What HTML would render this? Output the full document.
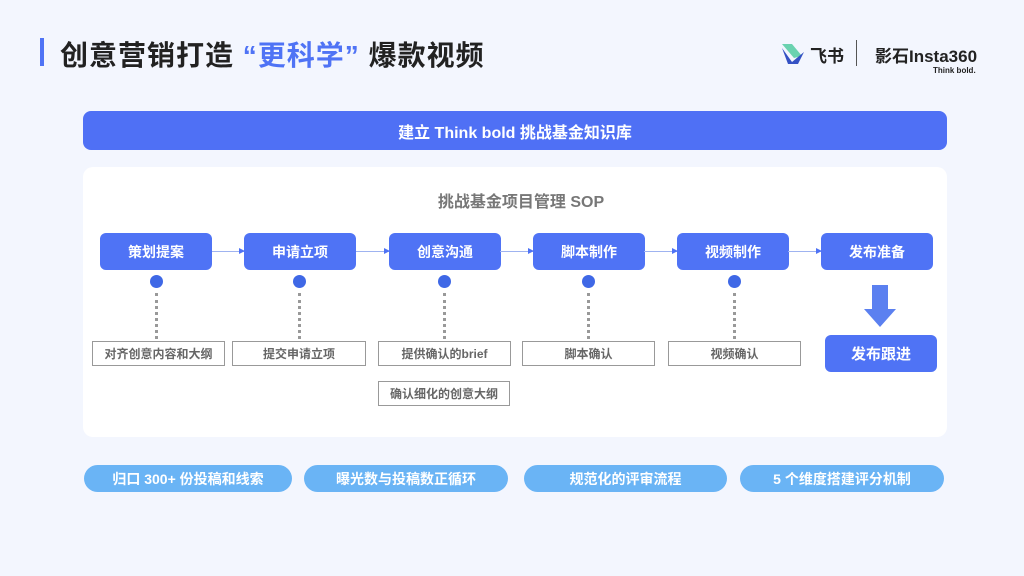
<!DOCTYPE html>
<html><head><meta charset="utf-8"><style>
*{margin:0;padding:0;box-sizing:border-box}
body{width:1024px;height:576px;background:#f3f6fe;position:relative;overflow:hidden;font-family:"Liberation Sans","Noto Sans CJK SC",sans-serif}
.a{position:absolute}
.step{position:absolute;top:233px;width:112px;height:37px;background:#4f73f5;border-radius:6px;color:#fff;font-weight:bold;font-size:14px;display:flex;align-items:center;justify-content:center}
.dot{position:absolute;width:13px;height:13px;border-radius:50%;background:#3f68e6;top:275px;box-shadow:0 0 0 4px #fff}
.dl{position:absolute;top:293px;height:46px;border-left:3px dotted #999}
.lab{position:absolute;height:25px;border:1px solid #999;background:#fff;color:#666;font-size:12px;font-weight:bold;display:flex;align-items:center;justify-content:center}
.arr{position:absolute;top:251px;height:1px;background:#9fb3f0}
.arr:after{content:"";position:absolute;right:-1px;top:-3px;border-left:6px solid #4f73f5;border-top:3.5px solid transparent;border-bottom:3.5px solid transparent}
.pill{position:absolute;top:465px;height:27px;border-radius:14px;background:#6ab4f5;color:#fff;font-size:14px;font-weight:bold;display:flex;align-items:center;justify-content:center}
</style></head><body>
<div class="a" style="left:40px;top:38px;width:4px;height:28px;background:#4f73f5"></div>
<div class="a" style="left:60px;top:34px;font-size:28px;letter-spacing:1px;font-weight:bold;color:#222;white-space:nowrap">创意营销打造 <span style="color:#4f73f5">“更科学”</span> 爆款视频</div>
<svg class="a" style="left:780px;top:40px" width="26" height="26"><path d="M2 4 L12 4 L22 16 L14 18 Z" fill="#6ad2b0"/><path d="M2 8 L12 22 L24 12 L18 24 L8 24 Z" fill="#3451c4"/></svg>
<div class="a" style="left:810px;top:42px;font-size:17px;font-weight:bold;color:#222">飞书</div>
<div class="a" style="left:856px;top:40px;width:1px;height:26px;background:#555"></div>
<div class="a" style="left:875px;top:42px;font-size:17px;font-weight:bold;color:#222">影石Insta360</div>
<div class="a" style="left:933px;top:66px;font-size:8px;font-weight:bold;color:#222">Think bold.</div>
<div class="a" style="left:83px;top:111px;width:864px;height:39px;background:#4f70f5;border-radius:8px;color:#fff;font-weight:bold;font-size:16px;display:flex;align-items:center;justify-content:center">建立 Think bold 挑战基金知识库</div>
<div class="a" style="left:83px;top:167px;width:864px;height:270px;background:#fff;border-radius:10px"></div>
<div class="a" style="left:0;width:1024px;top:188px;text-align:center;font-size:16px;font-weight:bold;color:#777;padding-left:18px">挑战基金项目管理 SOP</div>
<div class="step" style="left:100px">策划提案</div>
<div class="step" style="left:244px">申请立项</div>
<div class="step" style="left:389px">创意沟通</div>
<div class="step" style="left:533px">脚本制作</div>
<div class="step" style="left:677px">视频制作</div>
<div class="step" style="left:821px">发布准备</div>
<div class="arr" style="left:212px;width:32px"></div>
<div class="arr" style="left:356px;width:33px"></div>
<div class="arr" style="left:500px;width:33px"></div>
<div class="arr" style="left:644px;width:33px"></div>
<div class="arr" style="left:788px;width:33px"></div>
<div class="dot" style="left:150px"></div><div class="dl" style="left:155px"></div>
<div class="dot" style="left:293px"></div><div class="dl" style="left:298px"></div>
<div class="dot" style="left:438px"></div><div class="dl" style="left:443px"></div>
<div class="dot" style="left:582px"></div><div class="dl" style="left:587px"></div>
<div class="dot" style="left:728px"></div><div class="dl" style="left:733px"></div>
<div class="lab" style="left:92px;top:341px;width:133px">对齐创意内容和大纲</div>
<div class="lab" style="left:232px;top:341px;width:134px">提交申请立项</div>
<div class="lab" style="left:378px;top:341px;width:133px">提供确认的brief</div>
<div class="lab" style="left:378px;top:381px;width:132px">确认细化的创意大纲</div>
<div class="lab" style="left:522px;top:341px;width:133px">脚本确认</div>
<div class="lab" style="left:668px;top:341px;width:133px">视频确认</div>
<svg class="a" style="left:862px;top:285px" width="36" height="44"><path d="M10 0 H26 V24 H34 L18 42 L2 24 H10 Z" fill="#5b80f0"/></svg>
<div class="a" style="left:825px;top:335px;width:112px;height:37px;background:#4f73f5;border-radius:6px;color:#fff;font-weight:bold;font-size:15px;display:flex;align-items:center;justify-content:center">发布跟进</div>
<div class="pill" style="left:84px;width:208px">归口 300+ 份投稿和线索</div>
<div class="pill" style="left:304px;width:204px">曝光数与投稿数正循环</div>
<div class="pill" style="left:524px;width:203px">规范化的评审流程</div>
<div class="pill" style="left:740px;width:204px">5 个维度搭建评分机制</div>
</body></html>
